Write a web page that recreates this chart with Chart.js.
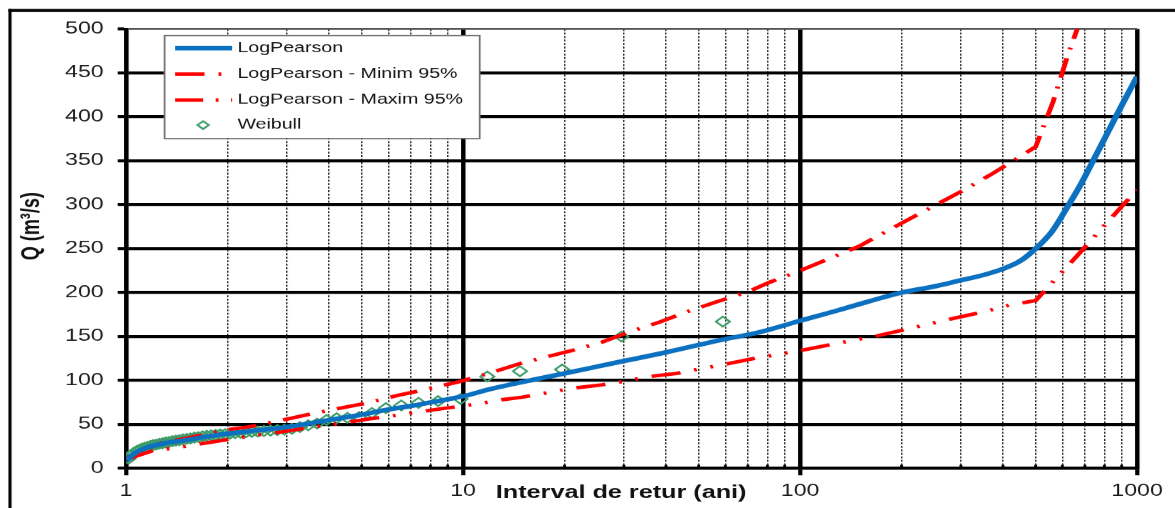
<!DOCTYPE html>
<html>
<head>
<meta charset="utf-8">
<title>Interval de retur - debite maxime</title>
<script src="https://cdn.jsdelivr.net/npm/chart.js@4.4.0/dist/chart.umd.min.js"></script>
<style>
  html, body { margin: 0; padding: 0; background: #fff; overflow: hidden; }
  #wrap { width: 1175px; height: 508px; overflow: hidden; }
  /* the chart is laid out on a narrower canvas and widened horizontally */
  #flood { display: block; transform-origin: 0 0; transform: scaleX(1.4005); }
</style>
</head>
<body>
<div id="wrap"><canvas id="flood" width="839" height="508"></canvas></div>
<script>
// ---- Log-Pearson III fit (return period in years, discharge in m3/s) ----
const lpReturnPeriod = [1.005, 1.03, 1.06, 1.1, 1.15, 1.2, 1.3, 1.4, 1.5, 1.7, 2, 2.5, 3, 4, 5, 6, 7, 8, 10, 12, 15.8, 20, 29, 40, 58, 76, 100, 130, 160, 200, 250, 300, 350, 400, 450, 500, 560, 620, 680, 740, 820, 900, 1000];
const lpFlow = [9, 13, 17, 20.5, 23.5, 25.5, 28.5, 30.5, 32, 35.5, 39.5, 43.5, 47, 55, 61, 67, 71, 75, 82, 90, 100, 108, 121, 132, 146, 155, 168, 180, 190, 200, 207, 214, 220, 227, 236, 250, 270, 297, 323, 350, 383, 413, 446];

// ---- lower 95% confidence bound ----
const minReturnPeriod = [1, 1.2, 1.5, 1.8, 2.4, 2.9, 3.5, 4.3, 5.2, 6, 7.3, 8.9, 10, 11.1, 13, 15, 21, 25.8, 30, 35, 43, 50, 60, 73, 100, 124, 170, 200, 280, 350, 420, 500, 664, 890, 1000];
const minFlow = [10, 20, 25, 30, 37.5, 41.5, 46.5, 51, 56, 59, 64, 68.5, 71, 73.5, 78, 81, 91, 95, 99, 104, 108, 113, 118.5, 125, 134, 141, 151, 157, 170, 178, 186, 191, 242, 296, 317];

// ---- upper 95% confidence bound ----
const maxReturnPeriod = [1, 1.2, 1.5, 2, 2.3, 3, 3.45, 4.25, 5.2, 6.4, 7.8, 9.6, 11.2, 15, 21, 25.8, 31, 38, 46, 56, 70, 81.5, 100, 119, 150, 200, 300, 367, 450, 500, 563, 620, 664, 700];
const maxFlow = [11, 27, 34, 44, 47, 56, 61, 68, 74.5, 83, 90, 98, 105, 120, 134, 143.5, 155, 166, 178, 189, 201, 212, 225, 237, 253, 279, 315, 334, 355, 366, 417, 468, 500, 527];

// ---- observed annual maxima, Weibull plotting positions ----
const weibullReturnPeriod = [1.017, 1.035, 1.053, 1.073, 1.093, 1.113, 1.135, 1.157, 1.18, 1.204, 1.229, 1.255, 1.282, 1.311, 1.341, 1.372, 1.405, 1.439, 1.475, 1.513, 1.553, 1.595, 1.639, 1.686, 1.735, 1.787, 1.844, 1.903, 1.967, 2.034, 2.107, 2.185, 2.269, 2.36, 2.458, 2.565, 2.682, 2.81, 2.95, 3.105, 3.278, 3.471, 3.688, 3.933, 4.214, 4.538, 4.917, 5.364, 5.9, 6.556, 7.375, 8.429, 9.833, 11.8, 14.75, 19.667, 29.5, 59];
const weibullFlow = [11, 15, 17.5, 19.5, 21, 22.5, 23.5, 24.5, 25.5, 26.5, 27, 28, 28.5, 29.5, 30, 31, 31.5, 32, 33, 33.5, 34, 35, 35.5, 36.5, 37, 37.5, 38, 38.5, 39, 39.5, 40, 40.5, 41, 41.5, 42, 42.5, 43, 43.5, 44, 45, 47, 49, 51, 55, 57, 57.5, 58.5, 63, 68.5, 71.5, 74.5, 76.5, 79, 104.5, 110.5, 112.5, 150, 167];

// ---- axes ----
const xGridValues = [1, 2, 3, 4, 5, 6, 7, 8, 9, 10, 20, 30, 40, 50, 60, 70, 80, 90, 100, 200, 300, 400, 500, 600, 700, 800, 900, 1000];
const xLabelValues = [1, 10, 100, 1000];
const yTickValues = [0, 50, 100, 150, 200, 250, 300, 350, 400, 450, 500];

const seriesLabels = ['LogPearson', 'LogPearson - Minim 95%', 'LogPearson - Maxim 95%', 'Weibull'];
const xAxisTitle = 'Interval de retur (ani)';
const yAxisTitle = 'Q (m\u00B3/s)';

// ---- styling ----
const FONT = '"Liberation Sans", Arial, Helvetica, sans-serif';
const dashMin = [21, 10, 2, 10, 2, 10];
const dashMax = [20, 9, 2, 9];

const toPoints = (xs, ys) => xs.map((x, i) => ({ x: x, y: ys[i] }));
const isDecade = v => v !== undefined && Math.abs(Math.log10(v) - Math.round(Math.log10(v))) < 1e-9;

Chart.defaults.font.family = FONT;

// frame, minor ticks, axis titles and the boxed legend
const decor = {
  id: 'decor',
  afterDraw(chart) {
    const ctx = chart.ctx;
    const xs = chart.scales.x;
    ctx.save();

    // outer frame (top and left edges)
    ctx.strokeStyle = '#000';
    ctx.setLineDash([]);
    ctx.lineWidth = 3;
    ctx.beginPath(); ctx.moveTo(6, 10.5); ctx.lineTo(chart.width, 10.5); ctx.stroke();
    ctx.lineWidth = 2.2;
    ctx.beginPath(); ctx.moveTo(7.1, 9); ctx.lineTo(7.1, chart.height); ctx.stroke();

    // small minor tick marks sitting on the x axis
    ctx.fillStyle = '#000';
    xGridValues.filter(v => !isDecade(v)).forEach(v => {
      const px = xs.getPixelForValue(v);
      ctx.fillRect(px - 1, xs.top - 3.5, 2, 3.5);
    });

    // axis titles
    ctx.fillStyle = '#111';
    ctx.font = 'bold 18px ' + FONT;
    ctx.textAlign = 'center';
    ctx.textBaseline = 'middle';
    ctx.fillText(xAxisTitle, 443.5, 493);
    ctx.save();
    ctx.translate(23, 226);
    ctx.rotate(-Math.PI / 2);
    ctx.fillText(yAxisTitle, 0, 0);
    ctx.restore();

    // legend box
    const box = { left: 117, top: 35, width: 225, height: 103 };
    ctx.fillStyle = '#fff';
    ctx.fillRect(box.left, box.top, box.width, box.height);
    ctx.strokeStyle = '#6b6b6b';
    ctx.lineWidth = 1.2;
    ctx.strokeRect(box.left + 0.5, box.top + 0.5, box.width, box.height);

    const rows = [48, 74, 100, 125];
    chart.data.datasets.forEach((ds, i) => {
      const y = rows[i];
      if (ds.showLine === false) {
        ctx.setLineDash([]);
        ctx.strokeStyle = ds.pointBorderColor;
        ctx.lineWidth = ds.pointBorderWidth;
        const r = 4;
        const cx = 145;
        ctx.beginPath();
        ctx.moveTo(cx - r, y); ctx.lineTo(cx, y - r); ctx.lineTo(cx + r, y); ctx.lineTo(cx, y + r);
        ctx.closePath();
        ctx.stroke();
      } else {
        ctx.setLineDash(ds.borderDash || []);
        ctx.strokeStyle = ds.borderColor;
        ctx.lineWidth = ds.borderWidth;
        ctx.beginPath(); ctx.moveTo(125, y); ctx.lineTo(165.7, y); ctx.stroke();
      }
      ctx.setLineDash([]);
      ctx.fillStyle = '#111';
      ctx.font = '14px ' + FONT;
      ctx.textAlign = 'left';
      ctx.textBaseline = 'middle';
      ctx.fillText(ds.label, 169.5, y);
    });

    ctx.restore();
  }
};

new Chart(document.getElementById('flood'), {
  type: 'line',
  data: {
    datasets: [
      {
        label: seriesLabels[0],
        data: toPoints(lpReturnPeriod, lpFlow),
        borderColor: '#0b70bf',
        borderWidth: 4.5,
        pointRadius: 0,
        cubicInterpolationMode: 'monotone',
        fill: false,
        order: 0
      },
      {
        label: seriesLabels[1],
        data: toPoints(minReturnPeriod, minFlow),
        borderColor: '#ff0000',
        borderWidth: 3.5,
        borderDash: dashMin,
        pointRadius: 0,
        tension: 0,
        fill: false,
        order: 1
      },
      {
        label: seriesLabels[2],
        data: toPoints(maxReturnPeriod, maxFlow),
        borderColor: '#ff0000',
        borderWidth: 3.5,
        borderDash: dashMax,
        pointRadius: 0,
        tension: 0,
        fill: false,
        order: 1
      },
      {
        label: seriesLabels[3],
        data: toPoints(weibullReturnPeriod, weibullFlow),
        showLine: false,
        pointStyle: 'rectRot',
        pointRadius: 5,
        pointBorderWidth: 1.6,
        pointBorderColor: '#3d9c68',
        pointBackgroundColor: 'rgba(0,0,0,0)',
        borderColor: '#3d9c68',
        order: 2
      }
    ]
  },
  options: {
    responsive: false,
    devicePixelRatio: 1.4005,
    animation: false,
    events: [],
    layout: { padding: { left: 0, top: 29, right: 27.1, bottom: 0 } },
    plugins: {
      legend: { display: false },
      tooltip: { enabled: false }
    },
    scales: {
      x: {
        type: 'logarithmic',
        min: 1,
        max: 1000,
        afterBuildTicks: scale => {
          scale.ticks = xGridValues.map(v => ({ value: v, major: isDecade(v) }));
        },
        afterFit: scale => { scale.height = 40; },
        ticks: {
          autoSkip: false,
          maxRotation: 0,
          padding: 6,
          color: '#1a1a1a',
          font: { size: 16.5 },
          callback: v => (xLabelValues.includes(v) ? String(v) : '')
        },
        grid: {
          color: c => (isDecade(c.tick && c.tick.value) ? '#000' : '#222'),
          lineWidth: c => (isDecade(c.tick && c.tick.value) ? 3.2 : 1),
          tickLength: 7,
          tickWidth: 3,
          tickColor: c => (isDecade(c.tick && c.tick.value) ? '#000' : 'rgba(0,0,0,0)')
        },
        border: {
          display: true,
          color: '#000',
          width: 3,
          dash: c => (c.tick && !isDecade(c.tick.value) ? [2, 1.5] : [])
        }
      },
      y: {
        type: 'linear',
        min: yTickValues[0],
        max: yTickValues[yTickValues.length - 1],
        afterFit: scale => { scale.width = 90; },
        ticks: {
          stepSize: yTickValues[1] - yTickValues[0],
          padding: 10,
          color: '#1a1a1a',
          font: { size: 16.5 }
        },
        grid: {
          color: c => (c.tick && c.tick.value === 500 ? '#555' : '#000'),
          lineWidth: c => (c.tick && c.tick.value === 500 ? 2 : 3),
          tickLength: 6,
          tickWidth: 3,
          tickColor: '#000'
        },
        border: { display: true, color: '#000', width: 3 }
      }
    }
  },
  plugins: [decor]
});
</script>
</body>
</html>
